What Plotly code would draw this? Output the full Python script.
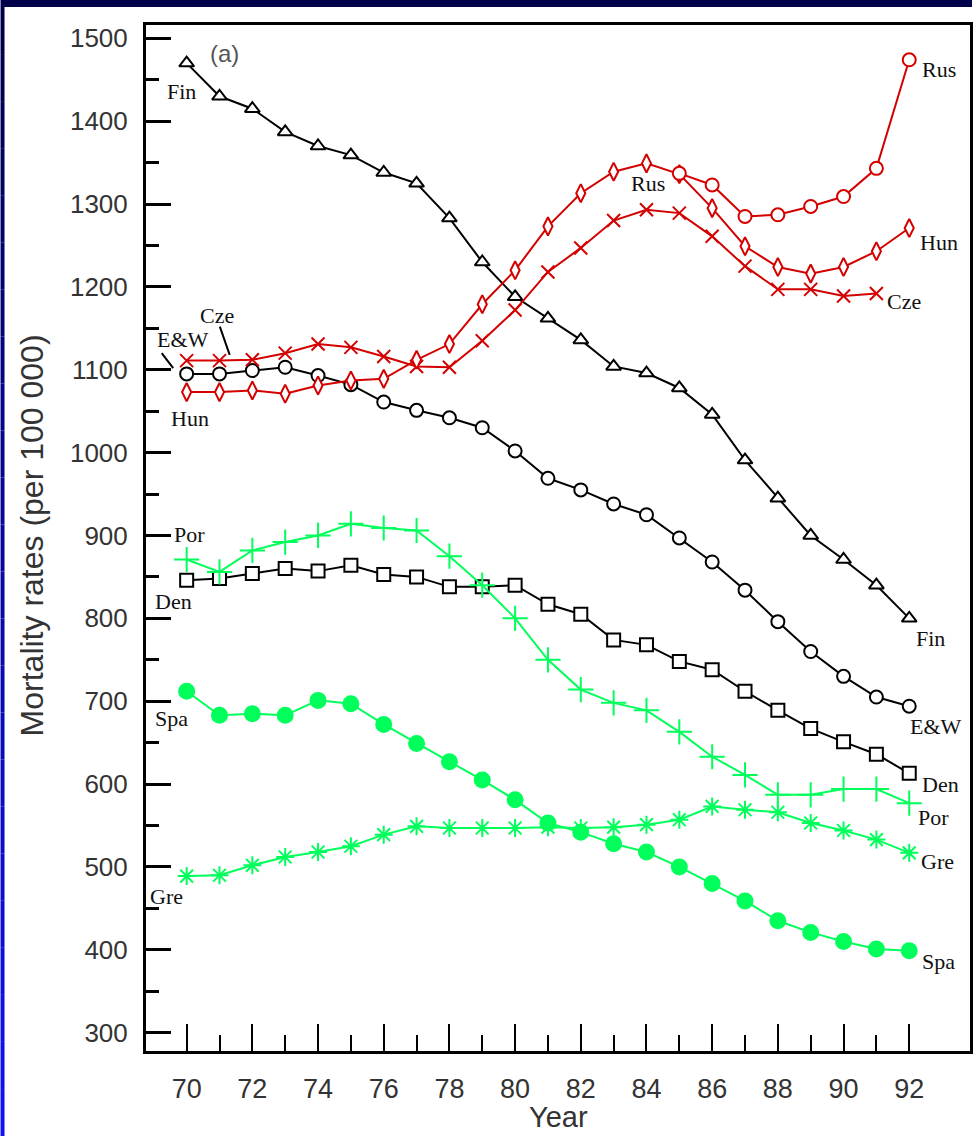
import plotly.graph_objects as go

# ---------------- data (years are 19xx) ----------------
years = list(range(70, 93))
years_cze = list(range(70, 92))
years_rus = list(range(85, 93))

fin = [1470, 1430, 1415, 1387, 1370, 1359, 1338, 1325, 1283, 1230, 1188, 1162,
       1136, 1104, 1096, 1078, 1046, 991, 945, 900, 871, 840, 800]
ew = [1095, 1095, 1099, 1103, 1093, 1082, 1061, 1051, 1042, 1030, 1002, 969,
      955, 938, 925, 897, 868, 834, 796, 760, 730, 705, 694]
den = [846, 848, 854, 860, 857, 864, 853, 850, 838, 838, 840, 817,
       805, 774, 768, 748, 738, 712, 689, 667, 651, 636, 613]
hun = [1073, 1073, 1075, 1071, 1081, 1087, 1089, 1112, 1131, 1179, 1220, 1273,
       1313, 1339, 1349, 1336, 1295, 1249, 1224, 1216, 1224, 1243, 1271]
rus = [1337, 1323, 1285, 1287, 1297, 1309, 1343, 1474]
cze = [1111, 1111, 1112, 1120, 1131, 1127, 1116, 1104, 1103, 1135, 1172, 1218,
       1247, 1280, 1293, 1289, 1261, 1225, 1197, 1197, 1189, 1192]
por = [871, 856, 882, 892, 900, 914, 909, 906, 875, 840, 800, 750,
       714, 698, 689, 663, 633, 611, 587, 587, 594, 594, 577]
spa = [712, 683, 685, 683, 701, 697, 672, 649, 627, 605, 581, 553,
       542, 528, 518, 500, 480, 459, 435, 421, 410, 401, 399]
gre = [489, 490, 502, 512, 518, 525, 539, 549, 547, 547, 547, 548,
       547, 548, 551, 557, 573, 569, 566, 553, 544, 533, 517]

x_major = list(range(70, 93, 2))
x_minor = list(range(71, 92, 2))
y_major = list(range(300, 1501, 100))
y_minor = list(range(350, 1451, 100))

# series labels: (text, year, value)
labels = [
    ("Fin", 69.85, 1436), ("(a)", 71.16, 1482), ("Cze", 70.91, 1166),
    ("E&amp;W", 69.89, 1136), ("Hun", 70.10, 1041), ("Por", 70.10, 901),
    ("Den", 69.59, 820), ("Spa", 69.54, 679), ("Gre", 69.39, 464),
    ("Rus", 92.90, 1462), ("Hun", 92.90, 1253), ("Cze", 91.84, 1182),
    ("Rus", 84.05, 1325), ("Fin", 92.65, 776), ("E&amp;W", 92.80, 669),
    ("Den", 92.95, 599), ("Por", 92.75, 560), ("Gre", 92.85, 506),
    ("Spa", 92.90, 386),
]
# leader lines from labels to curves: (x0, y0, x1, y1)
leaders = [(71.01, 1152, 71.31, 1118), (69.24, 1120, 69.59, 1102)]

BLACK = "#000000"
RED = "#d40000"
GREEN = "#00ff5a"

fig = go.Figure()


def add(x, y, color, symbol, size, fill):
    fig.add_trace(go.Scatter(
        x=x, y=y, mode="lines+markers",
        line=dict(color=color, width=2),
        marker=dict(symbol=symbol, size=size, color=fill,
                    line=dict(color=color, width=2)),
        hoverinfo="x+y",
    ))


add(years, fin, BLACK, "triangle-up", 13, "white")
add(years, ew, BLACK, "circle", 13, "white")
add(years, den, BLACK, "square", 13, "white")
add(years_cze, cze, RED, "x-thin-open", 13, RED)
add(years, hun, RED, "diamond-tall", 13, "white")
add(years_rus, rus, RED, "circle", 13, "white")
add(years, por, GREEN, "cross-thin-open", 18, GREEN)
add(years, gre, GREEN, "asterisk-open", 15, GREEN)
add(years, spa, GREEN, "circle", 15, GREEN)

annotations = []
for text, xv, yv in labels:
    is_a = text == "(a)"
    annotations.append(dict(
        x=xv, y=yv, xref="x", yref="y", text=text, showarrow=False,
        xanchor="center", yanchor="middle",
        font=dict(family="Liberation Sans" if is_a else "Liberation Serif",
                  size=24 if is_a else 22, color="#555" if is_a else "#111"),
    ))

# axis titles
L, R, T, B = 146, 2, 25, 85
W, H = 975, 1136
PW, PH = W - L - R, H - T - B


def px2x(px):
    return (px - L) / PW


def py2y(py):
    return (T + PH - py) / PH


annotations.append(dict(
    x=px2x(32), y=py2y(535), xref="paper", yref="paper",
    text="Mortality rates (per 100 000)", textangle=-90, showarrow=False,
    xanchor="center", yanchor="middle",
    font=dict(family="Liberation Sans", size=32, color="#333")))
annotations.append(dict(
    x=px2x(560), y=py2y(1117), xref="paper", yref="paper",
    text="Year", showarrow=False, xanchor="center", yanchor="middle",
    font=dict(family="Liberation Sans", size=29, color="#333")))

shapes = []
for x0, y0, x1, y1 in leaders:
    shapes.append(dict(type="line", xref="x", yref="y", x0=x0, y0=y0,
                       x1=x1, y1=y1, line=dict(color=BLACK, width=2)))

# dark-blue slide border (top strip and gradient left strip)
shapes.append(dict(type="rect", xref="paper", yref="paper", layer="above",
                   x0=px2x(0), x1=px2x(W), y0=py2y(7), y1=py2y(0),
                   fillcolor="#00004a", line=dict(width=0)))
n = 24
for i in range(n):
    t = i / (n - 1)
    r = int(0 + 16 * t)
    g = int(0 + 16 * t)
    b = int(74 + (245 - 74) * t)
    shapes.append(dict(type="rect", xref="paper", yref="paper", layer="above",
                       x0=px2x(0), x1=px2x(4),
                       y0=py2y(7 + (H - 7) * (i + 1) / n), y1=py2y(7 + (H - 7) * i / n),
                       fillcolor=f"rgb({r},{g},{b})", line=dict(width=0)))

fig.update_layout(
    width=W, height=H,
    margin=dict(l=L, r=R, t=T, b=B),
    paper_bgcolor="white", plot_bgcolor="white",
    showlegend=False,
    annotations=annotations,
    shapes=shapes,
    xaxis=dict(
        range=[68.762, 93.85], showgrid=False, zeroline=False,
        showline=True, linewidth=3, linecolor=BLACK, mirror=True,
        tickmode="array", tickvals=x_major, ticktext=[str(v) for v in x_major],
        ticks="inside", ticklen=27, tickwidth=2, tickcolor=BLACK,
        minor=dict(tickmode="array", tickvals=x_minor, ticks="inside",
                   ticklen=16, tickwidth=2, tickcolor=BLACK, showgrid=False),
        tickfont=dict(family="Liberation Sans", size=27, color="#333"),
        ticklabelstandoff=12,
    ),
    yaxis=dict(
        range=[277.9, 1516.0], showgrid=False, zeroline=False,
        showline=True, linewidth=3, linecolor=BLACK, mirror=True,
        tickmode="array", tickvals=y_major, ticktext=[str(v) for v in y_major],
        ticks="inside", ticklen=25, tickwidth=3, tickcolor=BLACK,
        minor=dict(tickmode="array", tickvals=y_minor, ticks="inside",
                   ticklen=13, tickwidth=3, tickcolor=BLACK, showgrid=False),
        tickfont=dict(family="Liberation Sans", size=26, color="#333"),
        ticklabelstandoff=10,
    ),
)

fig.write_html("out.html")
